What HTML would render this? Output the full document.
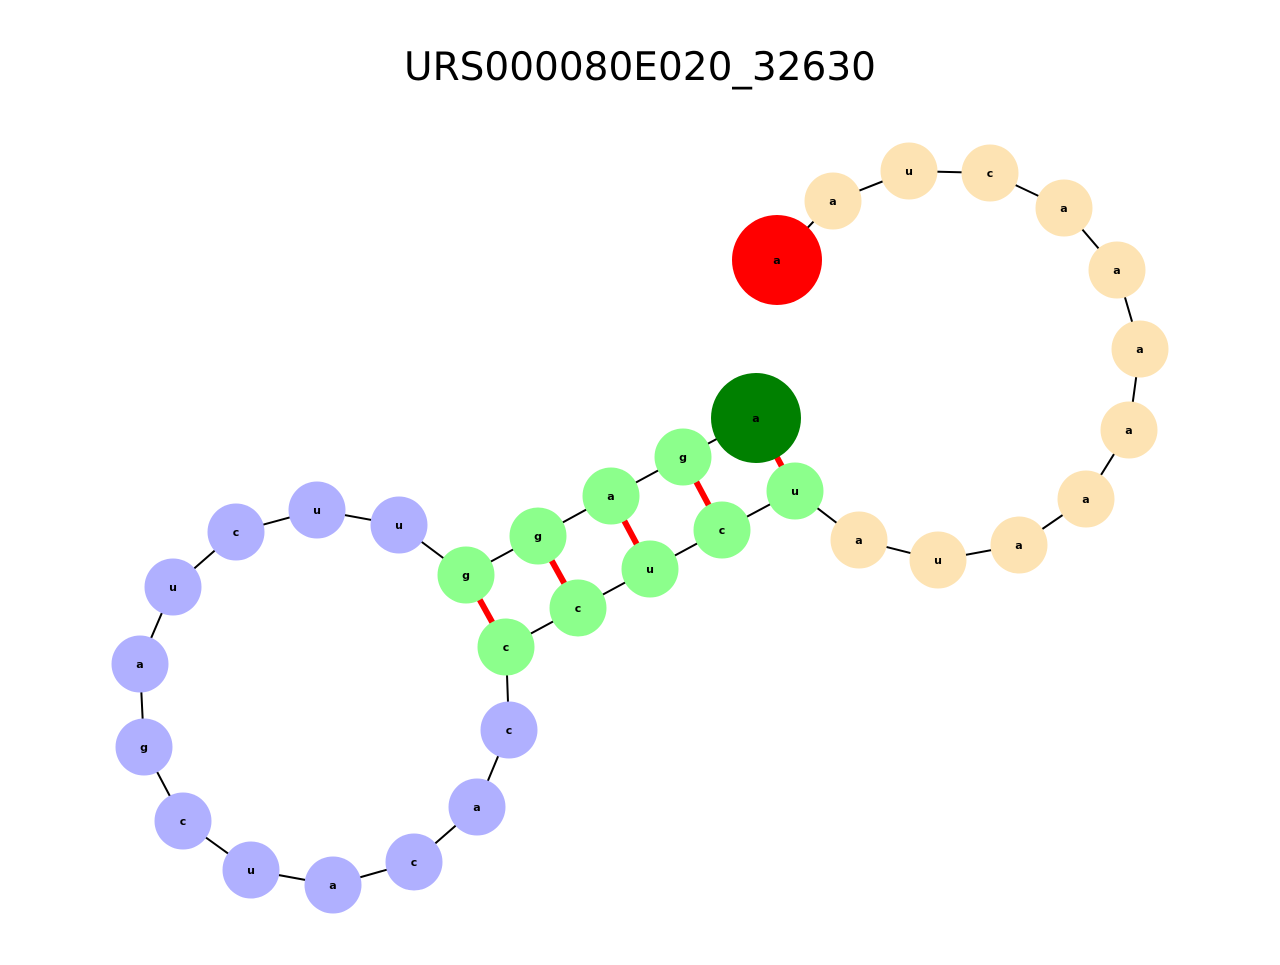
<!DOCTYPE html>
<html><head><style>html,body{margin:0;padding:0;background:#fff}</style></head><body>
<svg width="1280" height="960" xmlns="http://www.w3.org/2000/svg">
<text x="640" y="80" text-anchor="middle" font-family="DejaVu Sans, sans-serif" font-size="39">URS000080E020_32630</text>
<polyline fill="none" stroke="#000" stroke-width="2" points="777,260 833,201 909,171 990,173 1064,208 1117,270 1140,349 1129,430 1086,499 1019,545 938,560 859,540 795,491 722,530 650,569 578,608 506,647 509,730 477,807 414,862 333,885 251,870 183,821 144,747 140,664 173,587 236,532 317,510 399,525 466,575 538,536 611,496 683,457 756,418"/>
<g stroke="#ff0000" stroke-width="6">
<line x1="466" y1="575" x2="506" y2="647"/>
<line x1="538" y1="536" x2="578" y2="608"/>
<line x1="611" y1="496" x2="650" y2="569"/>
<line x1="683" y1="457" x2="722" y2="530"/>
<line x1="756" y1="418" x2="795" y2="491"/>
</g>
<g fill="#fde3b3">
<circle cx="833" cy="201" r="28.5"/><circle cx="909" cy="171" r="28.5"/><circle cx="990" cy="173" r="28.5"/><circle cx="1064" cy="208" r="28.5"/><circle cx="1117" cy="270" r="28.5"/><circle cx="1140" cy="349" r="28.5"/><circle cx="1129" cy="430" r="28.5"/><circle cx="1086" cy="499" r="28.5"/><circle cx="1019" cy="545" r="28.5"/><circle cx="938" cy="560" r="28.5"/><circle cx="859" cy="540" r="28.5"/>
</g>
<g fill="#8cff8c">
<circle cx="795" cy="491" r="28.5"/><circle cx="722" cy="530" r="28.5"/><circle cx="650" cy="569" r="28.5"/><circle cx="578" cy="608" r="28.5"/><circle cx="506" cy="647" r="28.5"/><circle cx="466" cy="575" r="28.5"/><circle cx="538" cy="536" r="28.5"/><circle cx="611" cy="496" r="28.5"/><circle cx="683" cy="457" r="28.5"/>
</g>
<g fill="#b0b0ff">
<circle cx="509" cy="730" r="28.5"/><circle cx="477" cy="807" r="28.5"/><circle cx="414" cy="862" r="28.5"/><circle cx="333" cy="885" r="28.5"/><circle cx="251" cy="870" r="28.5"/><circle cx="183" cy="821" r="28.5"/><circle cx="144" cy="747" r="28.5"/><circle cx="140" cy="664" r="28.5"/><circle cx="173" cy="587" r="28.5"/><circle cx="236" cy="532" r="28.5"/><circle cx="317" cy="510" r="28.5"/><circle cx="399" cy="525" r="28.5"/>
</g>
<circle cx="777" cy="260" r="45" fill="#ff0000"/>
<circle cx="756" cy="418" r="45" fill="#008000"/>
<g font-family="DejaVu Sans, sans-serif" font-size="11" font-weight="bold" text-anchor="middle">
<text x="777" y="264">a</text><text x="833" y="205">a</text><text x="909" y="175">u</text><text x="990" y="177">c</text><text x="1064" y="212">a</text><text x="1117" y="274">a</text><text x="1140" y="353">a</text><text x="1129" y="434">a</text><text x="1086" y="503">a</text><text x="1019" y="549">a</text><text x="938" y="564">u</text><text x="859" y="544">a</text><text x="795" y="495">u</text><text x="722" y="534">c</text><text x="650" y="573">u</text><text x="578" y="612">c</text><text x="506" y="651">c</text><text x="509" y="734">c</text><text x="477" y="811">a</text><text x="414" y="866">c</text><text x="333" y="889">a</text><text x="251" y="874">u</text><text x="183" y="825">c</text><text x="144" y="751">g</text><text x="140" y="668">a</text><text x="173" y="591">u</text><text x="236" y="536">c</text><text x="317" y="514">u</text><text x="399" y="529">u</text><text x="466" y="579">g</text><text x="538" y="540">g</text><text x="611" y="500">a</text><text x="683" y="461">g</text><text x="756" y="422">a</text>
</g>
</svg>
</body></html>
